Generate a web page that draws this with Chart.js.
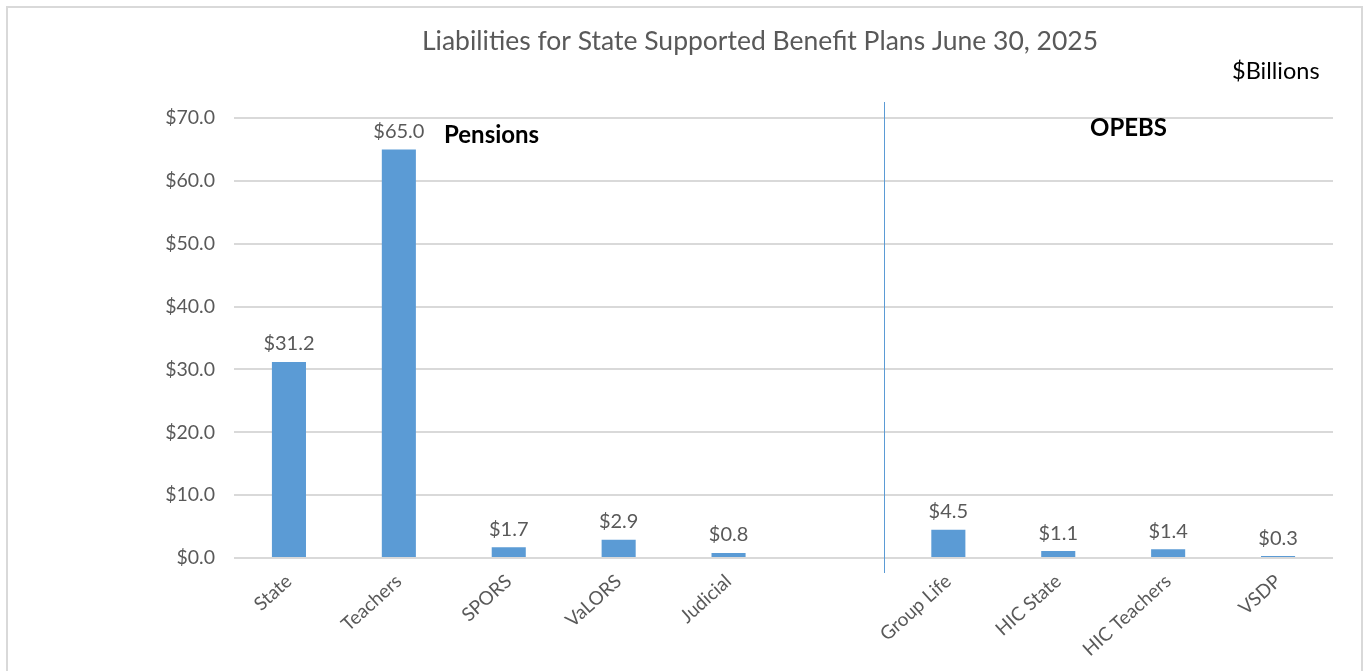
<!DOCTYPE html>
<html>
<head>
<meta charset="utf-8">
<script src="https://cdn.jsdelivr.net/npm/chart.js@4"></script>
<style>
  html, body { margin: 0; padding: 0; background: #fff; }
  #wrap { position: relative; width: 1369px; height: 671px; }
</style>
</head>
<body>
<div id="wrap"><canvas id="chart" width="1369" height="671"></canvas></div>
<script>
// categories (one empty slot separates pensions from OPEBs)
var planLabels = ['State', 'Teachers', 'SPORS', 'VaLORS', 'Judicial', '', 'Group Life', 'HIC State', 'HIC Teachers', 'VSDP'];
var liabilities = [31.2, 65.0, 1.7, 2.9, 0.8, null, 4.5, 1.1, 1.4, 0.3];
var yTicks = [0, 10, 20, 30, 40, 50, 60, 70];

var barBlue = '#5B9BD5';
var textGray = '#595959';
var fontFamily = 'Lato, Carlito, "Open Sans", sans-serif';

// outer frame, title, section labels and divider
var decorations = {
    id: 'decorations',
    beforeDraw: function (chart) {
        var ctx = chart.ctx;
        ctx.save();
        ctx.fillStyle = '#fff';
        ctx.fillRect(0, 0, chart.width, chart.height);
        ctx.strokeStyle = '#d9d9d9';
        ctx.lineWidth = 2;
        ctx.strokeRect(7, 7, 1355, 700);
        ctx.restore();
    },
    afterDatasetsDraw: function (chart) {
        var ctx = chart.ctx;
        var x = chart.scales.x;
        var area = chart.chartArea;
        ctx.save();

        // divider between pensions and OPEBs
        var divX = Math.round(x.getPixelForValue(5.41)) + 0.5;
        ctx.strokeStyle = barBlue;
        ctx.lineWidth = 1;
        ctx.beginPath();
        ctx.moveTo(divX, area.top - 16);
        ctx.lineTo(divX, area.bottom + 15);
        ctx.stroke();

        ctx.textBaseline = 'middle';
        ctx.textAlign = 'center';
        ctx.fillStyle = textGray;
        ctx.font = '26.5px ' + fontFamily;
        ctx.fillText('Liabilities for State Supported Benefit Plans June 30, 2025', 760, 41);

        ctx.fillStyle = '#000';
        ctx.font = '23.5px ' + fontFamily;
        ctx.textAlign = 'left';
        ctx.fillText('$Billions', 1232, 71);

        ctx.font = 'bold 24px ' + fontFamily;
        ctx.fillText('Pensions', 444, 135);
        ctx.fillText('OPEBS', 1090, 128);

        // value labels above bars
        var meta = chart.getDatasetMeta(0);
        ctx.font = '20px ' + fontFamily;
        ctx.fillStyle = textGray;
        ctx.textAlign = 'center';
        ctx.textBaseline = 'bottom';
        meta.data.forEach(function (bar, i) {
            var v = liabilities[i];
            if (v === null) return;
            ctx.fillText('$' + v.toFixed(1), bar.x, bar.y - 8);
        });
        ctx.restore();
    }
};

var config = {
    type: 'bar',
    data: {
        labels: planLabels,
        datasets: [{
            data: liabilities,
            backgroundColor: barBlue,
            borderWidth: 0,
            barPercentage: 0.31,
            categoryPercentage: 1.0
        }]
    },
    options: {
        responsive: false,
        animation: false,
        layout: { padding: { top: 118, left: 0, right: 36, bottom: 0 } },
        plugins: {
            legend: { display: false },
            title: { display: false },
            tooltip: { enabled: false }
        },
        scales: {
            x: {
                grid: { display: false },
                border: { display: false },
                ticks: {
                    color: textGray,
                    font: { family: fontFamily, size: 19 },
                    maxRotation: 42,
                    minRotation: 42,
                    autoSkip: false,
                    padding: 4
                },
                afterFit: function (scale) { scale.height = 671 - 558; }
            },
            y: {
                min: 0,
                max: 70,
                afterBuildTicks: function (scale) {
                    scale.ticks = yTicks.map(function (v) { return { value: v }; });
                },
                grid: { color: '#d9d9d9', lineWidth: 2, drawTicks: false },
                border: { display: false },
                ticks: {
                    color: textGray,
                    font: { family: fontFamily, size: 19.5 },
                    padding: 19,
                    callback: function (v) { return '$' + Number(v).toFixed(1); }
                },
                afterFit: function (scale) { scale.width = 234; }
            }
        }
    },
    plugins: [decorations]
};

new Chart(document.getElementById('chart'), config);
</script>
</body>
</html>
